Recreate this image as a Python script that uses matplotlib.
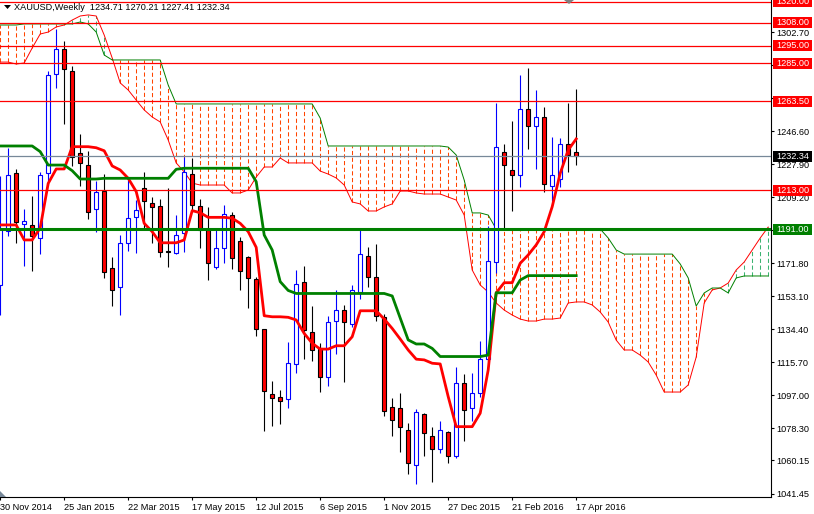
import matplotlib
matplotlib.use('Agg')
import matplotlib.pyplot as plt
import matplotlib.transforms as mtransforms
from matplotlib.patches import Rectangle, Polygon

plt.rcParams['font.family'] = ['Liberation Sans', 'DejaVu Sans']

# ─────────────────────────────────────────────
# 주봉 캔들 (i=0 -> 30 Nov 2014 주)
# ─────────────────────────────────────────────
opens = [1159.5, 1190.0, 1223.0, 1194.0, 1193.6, 1186.3, 1222.9, 1279.1, 1293.1, 1280.8,
         1234.5, 1227.5, 1202.6, 1212.9, 1168.9, 1158.2, 1183.0, 1197.9, 1214.4, 1206.0,
         1204.3, 1179.0, 1177.7, 1189.1, 1222.6, 1204.1, 1190.4, 1169.8, 1180.7, 1199.3,
         1184.6, 1175.1, 1162.7, 1134.6, 1097.7, 1096.0, 1094.9, 1115.0, 1161.0, 1132.9,
         1123.9, 1107.6, 1139.1, 1145.5, 1137.4, 1155.4, 1175.8, 1163.8, 1141.4, 1090.2,
         1089.6, 1077.4, 1057.6, 1086.4, 1073.9, 1066.4, 1076.1, 1062.4, 1104.2, 1089.6,
         1098.1, 1117.7, 1172.6, 1234.9, 1224.7, 1221.8, 1259.0, 1249.4, 1254.6, 1215.7,
         1219.5, 1239.2, 1234.71]
highs = [1221.0, 1237.0, 1225.0, 1202.6, 1210.0, 1223.2, 1280.8, 1304.7, 1297.8, 1283.7,
         1244.8, 1235.3, 1218.5, 1222.3, 1175.1, 1187.6, 1218.9, 1207.7, 1223.6, 1209.2,
         1208.3, 1214.4, 1199.3, 1232.0, 1231.6, 1208.3, 1203.5, 1191.9, 1205.0, 1200.7,
         1186.7, 1176.0, 1163.8, 1134.6, 1105.1, 1099.9, 1127.1, 1167.9, 1170.2, 1147.7,
         1126.7, 1141.7, 1156.7, 1148.3, 1159.5, 1190.8, 1181.0, 1182.6, 1143.2, 1095.8,
         1098.2, 1081.4, 1089.3, 1087.0, 1079.3, 1082.5, 1077.0, 1113.2, 1108.9, 1109.9,
         1128.0, 1192.7, 1262.6, 1239.2, 1252.3, 1278.6, 1282.4, 1270.1, 1260.3, 1243.3,
         1242.5, 1262.6, 1270.21]
lows = [1142.7, 1187.0, 1183.0, 1170.4, 1167.6, 1177.3, 1216.3, 1271.0, 1250.8, 1227.0,
        1215.7, 1196.6, 1189.5, 1163.3, 1147.4, 1142.3, 1178.8, 1177.7, 1191.4, 1183.3,
        1175.1, 1169.8, 1177.3, 1178.2, 1201.7, 1180.2, 1162.3, 1168.3, 1172.0, 1168.3,
        1156.7, 1146.4, 1130.8, 1077.0, 1079.9, 1080.8, 1089.6, 1109.9, 1117.7, 1116.4,
        1099.0, 1102.3, 1120.7, 1104.6, 1135.5, 1151.5, 1158.2, 1138.9, 1085.5, 1074.2,
        1065.2, 1052.7, 1046.7, 1062.6, 1048.0, 1064.5, 1058.7, 1061.5, 1071.4, 1082.7,
        1096.0, 1116.4, 1166.1, 1190.4, 1201.3, 1214.9, 1236.4, 1225.1, 1212.4, 1207.3,
        1214.9, 1223.2, 1227.41]
closes = [1191.0, 1222.0, 1195.0, 1196.0, 1187.2, 1221.9, 1278.5, 1293.1, 1281.7, 1232.0,
          1228.3, 1201.0, 1211.9, 1166.7, 1156.7, 1183.0, 1197.6, 1201.7, 1206.9, 1203.9,
          1178.2, 1177.9, 1188.0, 1223.2, 1204.9, 1190.4, 1171.7, 1180.7, 1199.8, 1174.5,
          1167.6, 1163.3, 1134.6, 1099.2, 1095.8, 1094.1, 1115.1, 1159.9, 1134.2, 1122.6,
          1107.6, 1138.5, 1145.5, 1138.5, 1156.5, 1177.3, 1164.2, 1141.7, 1088.3, 1083.2,
          1079.0, 1058.7, 1087.6, 1075.6, 1066.4, 1077.4, 1062.6, 1104.2, 1088.8, 1098.1,
          1117.7, 1173.0, 1237.7, 1227.4, 1221.8, 1259.0, 1249.4, 1254.6, 1216.7, 1221.8,
          1239.2, 1233.2, 1232.34]

# 일목균형표: 전환선 / 기준선
tenkan = [1193.5, 1193.5, 1193.5, 1185.0, 1185.0, 1191.8, 1217.0, 1225.2, 1225.2, 1237.8,
          1237.8, 1237.8, 1237.2, 1235.5, 1226.9, 1224.6, 1219.9, 1212.4, 1194.4, 1189.7,
          1183.4, 1183.4, 1183.4, 1185.0, 1201.6, 1200.4, 1197.8, 1197.8, 1197.8, 1197.3,
          1194.4, 1189.7, 1180.8, 1142.1, 1141.5, 1141.5, 1141.2, 1139.7, 1132.1, 1126.5,
          1123.2, 1123.2, 1125.1, 1125.1, 1130.2, 1144.9, 1144.9, 1144.9, 1140.2, 1134.9,
          1128.9, 1122.7, 1117.5, 1117.1, 1115.2, 1114.8, 1096.3, 1079.3, 1079.3, 1079.3,
          1086.9, 1111.4, 1155.1, 1160.8, 1160.8, 1171.8, 1176.5, 1182.2, 1189.7, 1203.8,
          1222.7, 1235.9, 1242.2]
kijun = [1238.2, 1238.2, 1238.2, 1238.2, 1238.2, 1235.0, 1227.4, 1227.4, 1227.4, 1224.2,
         1219.5, 1219.5, 1219.5, 1219.9, 1219.9, 1219.9, 1219.9, 1219.9, 1219.9, 1219.9,
         1219.9, 1219.9, 1225.0, 1225.6, 1225.6, 1225.6, 1225.6, 1225.6, 1225.6, 1225.6,
         1225.6, 1225.6, 1218.0, 1187.8, 1179.3, 1161.4, 1156.4, 1154.7, 1154.7, 1154.7,
         1154.7, 1154.7, 1154.7, 1154.7, 1154.7, 1154.7, 1154.7, 1154.7, 1154.7, 1153.3,
         1140.8, 1128.4, 1126.1, 1126.1, 1123.6, 1119.0, 1119.0, 1119.0, 1119.0, 1119.0,
         1119.0, 1119.8, 1155.1, 1155.1, 1155.1, 1162.3, 1164.8, 1164.8, 1164.8, 1164.8,
         1164.8, 1164.8, 1164.8]

# 선행스팬 A / B (26주 선행, i=0..96)
span_a = [1285.7, 1285.7, 1284.6, 1285.2, 1293.7, 1301.6, 1302.7, 1305.6, 1306.7, 1309.5,
          1311.8, 1312.4, 1311.8, 1301.0, 1288.0, 1273.9, 1269.9, 1264.2, 1258.6, 1254.6,
          1251.8, 1241.6, 1228.6, 1223.5, 1217.2, 1216.1, 1216.1, 1216.1, 1216.1, 1211.6,
          1211.6, 1213.3, 1220.6, 1226.3, 1226.3, 1231.4, 1228.6, 1228.6, 1228.6, 1228.6,
          1224.0, 1222.3, 1220.1, 1216.1, 1206.5, 1205.4, 1201.4, 1201.4, 1203.7, 1205.4,
          1212.7, 1212.7, 1211.6, 1211.0, 1211.0, 1211.0, 1209.3, 1207.6, 1199.1, 1168.0,
          1159.5, 1155.5, 1149.3, 1145.3, 1142.5, 1140.2, 1139.1, 1139.1, 1140.2, 1140.2,
          1140.8, 1149.3, 1149.9, 1149.9, 1148.2, 1144.2, 1138.5, 1128.3, 1122.7, 1122.7,
          1119.8, 1115.9, 1108.5, 1098.9, 1098.9, 1098.9, 1102.9, 1118.7, 1149.3, 1156.7,
          1157.8, 1160.6, 1168.0, 1172.5, 1179.3, 1186.1, 1192.3]
span_b = [1306.7, 1306.7, 1306.7, 1307.3, 1307.3, 1307.3, 1307.3, 1307.3, 1307.3, 1307.3,
          1308.4, 1307.3, 1302.7, 1289.7, 1286.9, 1286.9, 1286.9, 1286.9, 1286.9, 1286.9,
          1286.9, 1272.7, 1262.0, 1262.0, 1262.0, 1262.0, 1262.0, 1262.0, 1262.0, 1262.0,
          1262.0, 1262.0, 1262.0, 1262.0, 1262.0, 1262.0, 1262.0, 1262.0, 1262.0, 1262.0,
          1254.0, 1238.2, 1238.2, 1238.2, 1238.2, 1238.2, 1238.2, 1238.2, 1238.2, 1238.2,
          1238.2, 1238.2, 1238.2, 1238.2, 1238.2, 1238.2, 1237.6, 1233.1, 1218.9, 1200.3,
          1200.3, 1199.1, 1191.2, 1191.2, 1191.2, 1191.2, 1191.2, 1191.2, 1191.2, 1191.2,
          1191.2, 1191.2, 1191.2, 1191.2, 1191.2, 1191.2, 1186.1, 1179.3, 1177.0, 1177.0,
          1177.0, 1177.0, 1177.0, 1177.0, 1177.0, 1171.4, 1163.5, 1147.6, 1155.0, 1157.8,
          1157.8, 1155.0, 1163.5, 1164.6, 1164.6, 1164.6, 1164.6]

date_bars = [0, 8, 16, 24, 32, 40, 48, 56, 64, 72]
date_labels = ['30 Nov 2014', '25 Jan 2015', '22 Mar 2015', '17 May 2015', '12 Jul 2015',
               '6 Sep 2015', '1 Nov 2015', '27 Dec 2015', '21 Feb 2016', '17 Apr 2016']

# 가격 눈금 (박스에 가려지는 눈금은 라벨 없음)
price_ticks = [1041.45, 1060.15, 1078.30, 1097.00, 1115.70, 1134.40, 1153.10, 1171.80,
               1190.50, 1209.20, 1227.90, 1246.60, 1265.30, 1284.00, 1302.70]
price_tick_labels = ['1041.45', '1060.15', '1078.30', '1097.00', '1115.70', '1134.40',
                     '1153.10', '1171.80', '', '1209.20', '1227.90', '1246.60',
                     '', '', '1302.70']

resist_levels = [1320.0, 1308.0, 1295.0, 1285.0, 1263.5, 1213.0]
support_level = 1191.0
last_price = 1232.34
title_text = 'XAUUSD,Weekly  1234.71 1270.21 1227.41 1232.34'

Y0, Y1 = 1039.47, 1320.85
W, H = 814, 514
AX_W, AX_H = 771, 497

fig = plt.figure(figsize=(W / 100, H / 100), dpi=100)
fig.patch.set_facecolor('white')
ax = fig.add_axes([0, (H - AX_H) / H, AX_W / W, AX_H / H])
ax.set_xlim(-0.025, 96.35)
ax.set_ylim(Y0, Y1)

for s in ['left', 'top']:
    ax.spines[s].set_visible(False)
for s in ['right', 'bottom']:
    ax.spines[s].set_linewidth(0.8)
    ax.spines[s].set_zorder(20)

# ── 구름대 (선행스팬 사이 점선 해칭) ──
n_span = len(span_a)
xs = list(range(n_span))
for i in xs:
    a, b = span_a[i], span_b[i]
    col = '#FF4500' if b >= a else '#3CB371'
    ax.plot([i, i], [min(a, b), max(a, b)], color=col, lw=0.75,
            ls=(0, (4, 2.5)), zorder=1, solid_capstyle='butt')
ax.plot(xs, span_a, color='#FF0000', lw=0.7, zorder=2)
ax.plot(xs, span_b, color='#008000', lw=0.7, zorder=2)

# ── 캔들 ──
for i in range(len(opens)):
    o, h, l, c = opens[i], highs[i], lows[i], closes[i]
    bull = c >= o
    wick = '#0000FF' if bull else '#000000'
    ax.plot([i, i], [l, h], color=wick, lw=0.8, zorder=4, solid_capstyle='butt')
    body_h = max(abs(c - o), 0.4)
    if bull:
        ax.add_patch(Rectangle((i - 0.27, min(o, c)), 0.54, body_h, facecolor='white',
                               edgecolor='#0000FF', lw=0.8, zorder=5))
    else:
        ax.add_patch(Rectangle((i - 0.27, min(o, c)), 0.54, body_h, facecolor='#FF0000',
                               edgecolor='#000000', lw=0.8, zorder=5))

# ── 전환선 / 기준선 ──
ax.plot(range(len(tenkan)), tenkan, color='#FF0000', lw=2.0, zorder=6)
ax.plot(range(len(kijun)), kijun, color='#008000', lw=2.0, zorder=6)

# ── 수평선 ──
for lv in resist_levels:
    ax.axhline(lv, color='#FF0000', lw=0.9, zorder=7)
ax.axhline(support_level, color='#008000', lw=2.2, zorder=7)
ax.axhline(last_price, color='#778899', lw=0.9, zorder=7)

# ── 축 눈금 ──
ax.yaxis.tick_right()
ax.set_yticks(price_ticks)
ax.set_yticklabels(price_tick_labels)
ax.tick_params(axis='y', direction='out', length=2.5, width=0.8, pad=1.5,
               labelsize=6.6, colors='black')
ax.set_xticks(date_bars)
ax.set_xticklabels(date_labels)
ax.tick_params(axis='x', direction='out', length=2.5, width=0.8, pad=1.5,
               labelsize=6.6, colors='black')
for lab in ax.get_xticklabels():
    lab.set_horizontalalignment('left')

# ── 오른쪽 가격 박스 ──
trans = mtransforms.blended_transform_factory(ax.transAxes, ax.transData)
px_unit = AX_H / (Y1 - Y0)
box_h = 11.5 / px_unit
box_x = 1 + 2 / AX_W
box_w = 39 / AX_W
box_items = [(lv, '#FF0000') for lv in resist_levels] + \
            [(support_level, '#008000'), (last_price, '#000000')]
for lv, colr in box_items:
    ax.add_patch(Rectangle((box_x, lv - box_h / 2), box_w, box_h, transform=trans,
                           facecolor=colr, edgecolor='none', clip_on=False, zorder=30))
    ax.text(box_x + 3 / AX_W, lv, f'{lv:.2f}', transform=trans, color='white',
            fontsize=6.6, ha='left', va='center', zorder=31, clip_on=False)

# ── 제목 및 표시 ──
fig.text(14 / W, 1 - 8 / H, title_text, fontsize=6.6, ha='left', va='center', color='black')


def fp(x, y):
    return (x / W, 1 - y / H)


fig.patches.append(Polygon([fp(4, 5), fp(11, 5), fp(7.5, 9)], closed=True,
                           transform=fig.transFigure, facecolor='black', edgecolor='none'))
fig.patches.append(Polygon([fp(564, 0), fp(574, 0), fp(569, 4)], closed=True,
                           transform=fig.transFigure, facecolor='#808080', edgecolor='none'))
fig.patches.append(Polygon([fp(0, 491), fp(0, 497), fp(6, 497)], closed=True,
                           transform=fig.transFigure, facecolor='#778899', edgecolor='none'))

plt.savefig('out.png', dpi=100)
plt.close()
